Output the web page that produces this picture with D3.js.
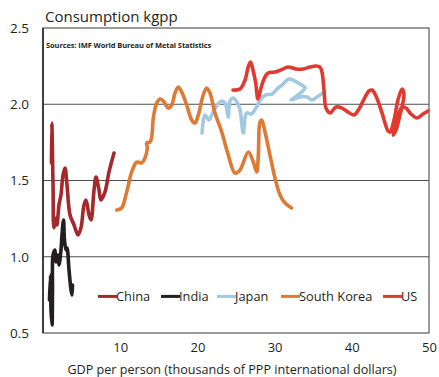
<!DOCTYPE html>
<html>
<head>
<meta charset="utf-8">
<script src="https://cdn.jsdelivr.net/npm/d3@7"></script>
<style>
  html, body { margin: 0; padding: 0; background: #fff; }
  svg { display: block; }
  text { font-family: "Open Sans", "Noto Sans", sans-serif; fill: #231f20; }
</style>
</head>
<body>
<svg id="chart" width="439" height="377"></svg>
<script>
// Copper consumption (kg per person) against GDP per person (thousands of PPP $)
const china = [
  [1.10, 1.615], [1.14, 1.877], [1.30, 1.47], [1.42, 1.19], [1.68, 1.254], [1.81, 1.208],
  [2.07, 1.34], [2.33, 1.405], [2.59, 1.536], [2.85, 1.582], [3.11, 1.47], [3.50, 1.274],
  [4.02, 1.208], [4.53, 1.143], [4.92, 1.19], [5.31, 1.34], [5.57, 1.372], [5.96, 1.274],
  [6.22, 1.241], [6.61, 1.438], [6.87, 1.523], [7.25, 1.438], [7.51, 1.372], [8.03, 1.425],
  [8.55, 1.556], [9.20, 1.68]
];
const india = [
  [0.84, 0.716], [0.97, 0.88], [1.04, 0.651], [1.17, 0.552], [1.23, 0.782], [1.30, 1.011],
  [1.55, 1.044], [1.68, 0.966], [1.94, 1.011], [2.07, 0.946], [2.33, 1.044], [2.46, 1.143],
  [2.66, 1.241], [2.78, 1.11], [2.98, 1.044], [3.11, 1.057], [3.37, 0.913], [3.63, 0.782],
  [3.76, 0.749], [3.82, 0.815]
];
const japan = [
  [20.60, 1.811], [20.98, 1.93], [21.50, 1.897], [22.02, 1.949], [22.67, 2.002], [23.19, 2.021],
  [23.58, 2.008], [23.83, 1.962], [24.00, 1.916], [24.22, 2.021], [24.61, 2.041], [25.13, 2.015],
  [25.52, 1.962], [25.95, 1.811], [26.36, 1.943], [27.01, 1.936], [27.66, 1.982], [28.24, 2.034],
  [28.89, 2.061], [29.66, 2.067], [30.31, 2.10], [30.96, 2.126], [31.87, 2.166], [32.64, 2.152],
  [33.29, 2.133], [33.94, 2.107], [33.03, 2.061], [32.12, 2.028], [33.29, 2.048], [34.20, 2.048],
  [34.84, 2.028], [35.49, 2.048], [36.27, 2.074]
];
const southKorea = [
  [9.55, 1.307], [10.19, 1.32], [10.84, 1.425], [11.49, 1.556], [12.14, 1.621], [12.78, 1.615],
  [13.21, 1.648], [13.51, 1.713], [13.43, 1.746], [13.86, 1.752], [14.08, 1.785], [14.29, 1.91],
  [14.73, 2.008], [15.16, 2.034], [15.58, 2.021], [16.23, 1.975], [16.67, 1.995], [17.10, 2.074],
  [17.53, 2.113], [17.97, 2.08], [18.61, 1.995], [19.26, 1.897], [19.69, 1.877], [20.12, 1.93],
  [20.76, 2.061], [21.20, 2.107], [21.63, 2.074], [22.28, 1.943], [23.15, 1.818], [24.00, 1.667],
  [24.87, 1.549], [25.52, 1.569], [26.59, 1.687], [27.24, 1.621], [27.68, 1.556], [27.89, 1.667],
  [28.11, 1.884], [28.33, 1.897], [28.76, 1.818], [29.40, 1.667], [30.05, 1.516], [30.70, 1.405],
  [31.35, 1.352], [32.21, 1.32]
];
const us = [
  [24.61, 2.093], [25.52, 2.10], [26.17, 2.159], [26.55, 2.238], [26.88, 2.277], [27.20, 2.225],
  [27.53, 2.146], [27.85, 2.034], [28.24, 2.107], [28.63, 2.166], [29.15, 2.205], [30.05, 2.211],
  [30.83, 2.225], [31.74, 2.244], [32.77, 2.231], [33.68, 2.231], [34.59, 2.244], [35.36, 2.251],
  [35.88, 2.244], [36.14, 2.211], [36.40, 2.093], [36.66, 1.975], [37.18, 1.943], [37.95, 1.982],
  [38.73, 1.975], [39.51, 1.949], [40.28, 1.93], [40.93, 1.969], [41.58, 2.034], [42.23, 2.087],
  [42.62, 2.093], [43.13, 2.054], [43.91, 1.943], [44.69, 1.825], [44.95, 1.818], [45.47, 1.897],
  [45.98, 2.028], [46.50, 2.10], [46.76, 2.061], [46.24, 1.93], [45.73, 1.831], [45.34, 1.798],
  [45.85, 1.897], [46.50, 1.982], [47.02, 1.975], [47.67, 1.936], [48.45, 1.91], [49.22, 1.936],
  [49.87, 1.956]
];

const seriesNames = ["China", "India", "Japan", "South Korea", "US"];
const seriesData = [china, india, japan, southKorea, us];
const seriesColors = ["#a3292c", "#231f20", "#a3c9e2", "#dd7a35", "#e2392f"];

const xTicks = [10, 20, 30, 40, 50];
const yTicks = [0.5, 1.0, 1.5, 2.0, 2.5];
const gridValues = [1.0, 1.5, 2.0];

const title = "Consumption kgpp";
const source = "Sources: IMF World Bureau of Metal Statistics";
const xTitle = "GDP per person (thousands of PPP international dollars)";

const svg = d3.select("#chart");
const plot = { left: 43, right: 429, top: 28, bottom: 333 };

const x = d3.scaleLinear().domain([0, 50]).range([plot.left, plot.right]);
const y = d3.scaleLinear().domain([0.5, 2.5]).range([plot.bottom, plot.top]);

// gridlines and frame
svg.append("g").selectAll("line").data(gridValues).join("line")
  .attr("x1", plot.left).attr("x2", plot.right)
  .attr("y1", d => y(d)).attr("y2", d => y(d))
  .attr("stroke", "#4d4d4f").attr("stroke-width", 1);

svg.append("rect")
  .attr("x", plot.left).attr("y", plot.top)
  .attr("width", plot.right - plot.left).attr("height", plot.bottom - plot.top)
  .attr("fill", "none").attr("stroke", "#58595b").attr("stroke-width", 1.2);

svg.append("line")
  .attr("x1", plot.left).attr("x2", plot.left)
  .attr("y1", plot.top).attr("y2", plot.bottom)
  .attr("stroke", "#231f20").attr("stroke-width", 1.5);

// axes
const yAxis = d3.axisLeft(y).tickValues(yTicks).tickFormat(d3.format(".1f")).tickSize(0).tickPadding(14);
svg.append("g").attr("transform", `translate(${plot.left},0)`).call(yAxis)
  .call(g => g.select(".domain").remove())
  .selectAll("text").style("font-size", "13.5px").style("font-family", "'Open Sans', sans-serif").attr("fill", "#231f20");

const xAxis = d3.axisBottom(x).tickValues(xTicks).tickSize(0).tickPadding(10);
svg.append("g").attr("transform", `translate(0,${plot.bottom})`).call(xAxis)
  .call(g => g.select(".domain").remove())
  .selectAll("text").style("font-size", "13px").style("font-family", "'Open Sans', sans-serif").attr("fill", "#231f20");

// series lines
const line = d3.line()
  .x(d => x(d[0])).y(d => y(d[1]))
  .curve(d3.curveCatmullRom.alpha(0.5));

svg.append("g").selectAll("path").data(seriesData).join("path")
  .attr("d", d => line(d))
  .attr("fill", "none")
  .attr("stroke", (d, i) => seriesColors[i])
  .attr("stroke-width", 3.6)
  .attr("stroke-linejoin", "round")
  .attr("stroke-linecap", "round");

// titles
svg.append("text").attr("x", 45).attr("y", 22)
  .style("font-size", "15px").text(title);
svg.append("text").attr("x", 46).attr("y", 48)
  .style("font-size", "7.5px").style("font-weight", "bold").style("letter-spacing", "-0.1px").text(source);
svg.append("text").attr("x", 232).attr("y", 373.5)
  .attr("text-anchor", "middle").style("font-size", "12.6px").text(xTitle);

// legend
const legendX = [98, 161, 217, 281, 383];
const legendY = y(0.74);
const legend = svg.append("g").selectAll("g").data(seriesNames).join("g")
  .attr("transform", (d, i) => `translate(${legendX[i]},${legendY})`);
legend.append("line").attr("x1", 0).attr("x2", 19).attr("y1", 0).attr("y2", 0)
  .attr("stroke", (d, i) => seriesColors[i]).attr("stroke-width", 3);
legend.append("text").attr("x", 18).attr("y", 0).attr("dy", "0.35em")
  .style("font-size", "12.8px").text(d => d);
</script>
</body>
</html>
